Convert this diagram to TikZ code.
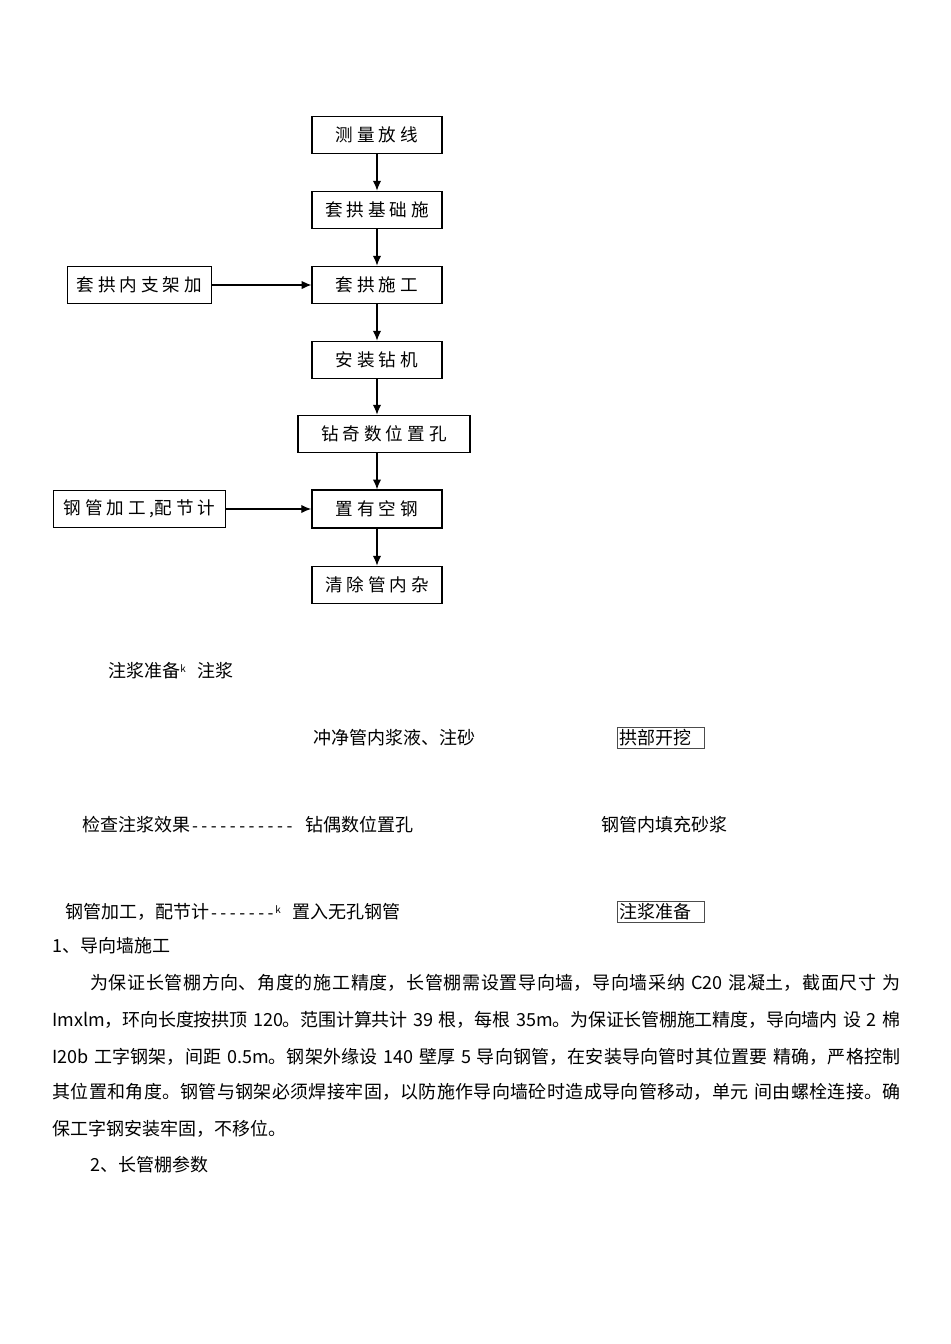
\documentclass[tikz,border=0pt]{standalone}
\usepackage{fontspec}
\setmainfont{Noto Sans CJK SC}
\newfontfamily\dashfont{Liberation Mono}
\usetikzlibrary{arrows.meta}
\XeTeXlinebreaklocale "zh"
\XeTeXlinebreakskip=0pt plus 2pt minus 0.3pt
\newcommand{\dashes}[1]{{\dashfont\fontsize{11.2pt}{11.2pt}\selectfont\foreach \d in {1,...,#1}{-}}}
\newcommand{\smallk}{{\fontsize{7pt}{7pt}\selectfont\raisebox{0.55em}{k}}}
\newcommand{\fullline}[1]{\noindent\parfillskip=0pt\spaceskip=4pt plus 1pt\relax #1\par}

\begin{document}
\begin{tikzpicture}[x=0.025cm, y=-0.025cm,
        flowbox/.style={draw, line width=0.75pt, minimum width=3.25cm, minimum height=0.94cm, inner sep=0pt, font=\fontsize{12.5pt}{12.5pt}\selectfont},
        arr/.style={-{Latex[length=7pt,width=6pt]}, line width=0.9pt},
        txt/.style={anchor=west, inner sep=0pt, font=\fontsize{12.8pt}{12.8pt}\selectfont},
        fill line/.style={txt, align=justify},
        tagbox/.style={draw=black!70, line width=0.5pt, inner xsep=1.5pt, inner ysep=0pt, minimum height=0.525cm, text width=2.07cm, align=left, font=\fontsize{12.8pt}{12.8pt}\selectfont}]
        \useasboundingbox (0,0) rectangle (950,1344);

        % flow chart
        \node[flowbox] (m1) at (377,135) {测 量 放 线};
        \node[flowbox] (m2) at (377,210) {套 拱 基 础 施};
        \node[flowbox] (m3) at (377,285) {套 拱 施 工};
        \node[flowbox] (m4) at (377,360) {安 装 钻 机};
        \node[flowbox, minimum width=4.3cm] (m5) at (384,434) {钻 奇 数 位 置 孔};
        \node[flowbox, line width=1.2pt] (m6) at (377,509) {置 有 空 钢};
        \node[flowbox] (m7) at (377,585) {清 除 管 内 杂};
        \node[flowbox, minimum width=3.6cm] (l1) at (139.5,285) {套 拱 内 支 架 加};
        \node[flowbox, minimum width=4.3cm] (l2) at (139.5,509) {钢 管 加 工 ,配 节 计};

        \foreach \a/\b in {m1/m2,m2/m3,m3/m4,m6/m7,l1/m3,l2/m6}
        \draw[arr] (\a) -- (\b);
        \draw[arr] (m4.south) -- (m4.south |- m5.north);
        \draw[arr] (m6.north |- m5.south) -- (m6.north);

        % loose text
        \node[txt] (t1) at (108,671) {注浆准备\smallk\hspace{0.3cm}注浆};
        \node[txt] (t2) at (313,738) {冲净管内浆液、注砂};
        \node[tagbox] (b1) at (660.5,737.5) {拱部开挖};
        \node[txt] (t3) at (82,825) {检查注浆效果\dashes{11}\hspace{0.28cm}钻偶数位置孔};
        \node[txt] (t4) at (601,825) {钢管内填充砂浆};
        \node[txt] (t5) at (65,912) {钢管加工，配节计\dashes{7}\smallk\hspace{0.3cm}置入无孔钢管};
        \node[tagbox] (b2) at (660.5,911.5) {注浆准备};

        % paragraph
        \node[txt] (p0) at (52,946) {1、导向墙施工};
        \node[fill line, text width=20.25cm] (p1) at (90,983) {\fullline{为保证长管棚方向、角度的施工精度，长管棚需设置导向墙，导向墙采纳 C20 混凝土，截面尺寸 为}};
        \node[fill line, text width=21.2cm] (p2) at (52,1020) {\fullline{Imxlm，环向长度按拱顶 120。范围计算共计 39 根，每根 35m。为保证长管棚施工精度，导向墙内 设 2 棉}};
        \node[fill line, text width=21.2cm] (p3) at (52,1056.5) {\fullline{I20b 工字钢架，间距 0.5m。钢架外缘设 140 壁厚 5 导向钢管，在安装导向管时其位置要 精确，严格控制}};
        \node[fill line, text width=21.2cm] (p4) at (52,1092) {\fullline{其位置和角度。钢管与钢架必须焊接牢固，以防施作导向墙砼时造成导向管移动，单元 间由螺栓连接。确}};
        \node[txt] (p5) at (52,1129) {保工字钢安装牢固，不移位。};
        \node[txt] (p6) at (90,1165) {2、长管棚参数};
\end{tikzpicture}
\end{document}
